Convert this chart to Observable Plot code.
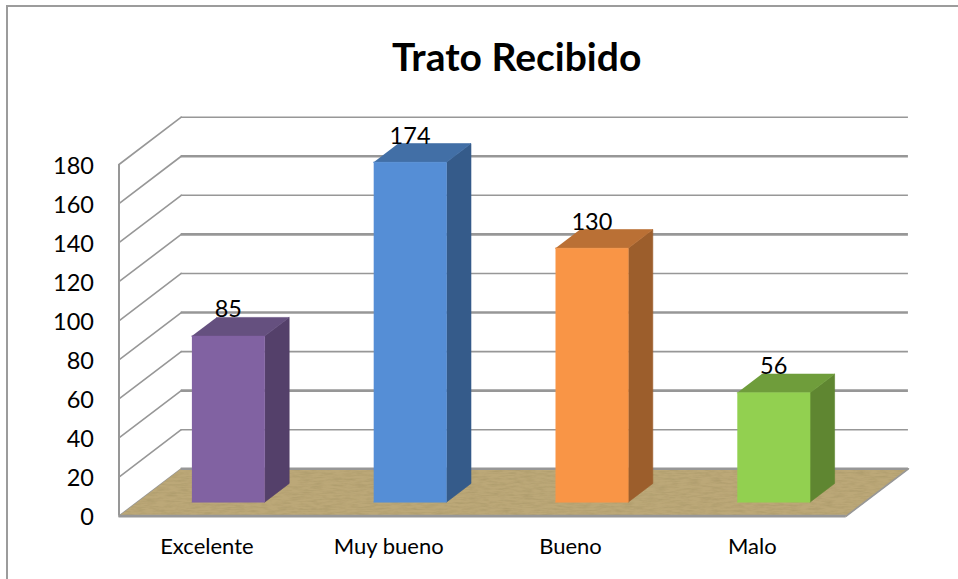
<!DOCTYPE html>
<html lang="es">
<head>
<meta charset="utf-8">
<script src="https://cdn.jsdelivr.net/npm/d3@7"></script>
<script src="https://cdn.jsdelivr.net/npm/@observablehq/plot@0.6"></script>
<style>
html,body{margin:0;padding:0;background:#fff;width:958px;height:579px;overflow:hidden}
#chart{position:relative;width:958px;height:579px}
#frame{position:absolute;left:6px;top:5px;right:0;bottom:0;border-top:2px solid #9c9c9c;border-left:2px solid #9c9c9c}
#chart svg{position:absolute;left:0;top:0;background:transparent}
</style>
</head>
<body>
<div id="chart"><div id="frame"></div></div>
<svg width="0" height="0" style="position:absolute">
  <filter id="wood" x="0" y="0" width="100%" height="100%">
    <feTurbulence type="fractalNoise" baseFrequency="0.09 0.5" numOctaves="3" seed="4" result="n"/>
    <feColorMatrix in="n" type="matrix" values="0 0 0 0 0.35  0 0 0 0 0.28  0 0 0 0 0.12  0.9 0 0 0 -0.32" result="g"/>
    <feComposite in="g" in2="SourceAlpha" operator="in" result="t"/>
    <feMerge><feMergeNode in="SourceGraphic"/><feMergeNode in="t"/></feMerge>
  </filter>
</svg>
<script>
const title = "Trato Recibido";
const categories = ["Excelente", "Muy bueno", "Bueno", "Malo"];
const values = [85, 174, 130, 56];
const frontColors = ["#8162a2", "#558ed6", "#f99546", "#92d050"];
const sideColors = ["#54406a", "#355b8a", "#9c5e2c", "#5f8631"];
const topColors = ["#65507f", "#426fa6", "#ba7035", "#6f9d3b"];
const yTicks = d3.range(0, 181, 20);

// Oblique projection: depth z (0 front, 1 back) expressed in scale units
const depthX = 0.3423, depthY = 24.22;
const barZ0 = 0.295, barZ1 = 0.69, barHalf = 0.2;
const X = (pos, z) => pos + z * depthX;
const Y = (val, z) => val + z * depthY;

const faces = [];
values.forEach((v, i) => {
  const l = i + 0.5 - barHalf, r = i + 0.5 + barHalf;
  const add = (face, color, pts) => pts.forEach(([x, y, z]) => faces.push({id: i + face, color, px: X(x, z), py: Y(y, z)}));
  add("side", sideColors[i], [[r,0,barZ0],[r,0,barZ1],[r,v,barZ1],[r,v,barZ0]]);
  add("top", topColors[i], [[l,v,barZ0],[r,v,barZ0],[r,v,barZ1],[l,v,barZ1]]);
  add("front", frontColors[i], [[l,0,barZ0],[r,0,barZ0],[r,v,barZ0],[l,v,barZ0]]);
});

const floor = [[0,0],[4,0],[4,1],[0,1]].map(([x, z]) => ({px: X(x, z), py: Y(0, z)}));
const diagonals = yTicks.flatMap(t => [{t, px: X(0,0), py: Y(t,0)}, {t, px: X(0,1), py: Y(t,1)}]);
const floorEdge = [{px: X(4,0), py: 0}, {px: X(4,1), py: Y(0,1)}];
const labels = values.map((v, i) => ({v, px: X(i + 0.5, barZ0), py: Y(v, barZ1)}));

const grey = "#979797";
const plot = Plot.plot({
  width: 958, height: 579,
  marginLeft: 118.5, marginRight: 112.3, marginTop: 164, marginBottom: 63.4,
  style: {fontFamily: "Lato, 'Open Sans', sans-serif", background: "transparent", color: "#000"},
  x: {domain: [0, 4]},
  y: {domain: [0, 180]},
  color: {type: "identity"},
  marks: [
    Plot.ruleY(yTicks.slice(1), {
      x1: X(0,1), x2: X(4,1), y: d => Y(d,1), stroke: grey,
      strokeWidth: d => (d % 40 === 0 ? 2.6 : 1.6)
    }),
    Plot.line(diagonals, {x: "px", y: "py", z: "t", stroke: grey, strokeWidth: 1.6}),
    Plot.line(floor, {x: "px", y: "py", fill: "#bcA878", stroke: "#bca878", strokeWidth: 0.5, imageFilter: "url(#wood)"}),
    Plot.ruleY([0], {x1: X(0,1), x2: X(4,1), y: Y(0,1), stroke: grey, strokeWidth: 2.6}),
    Plot.line(floorEdge, {x: "px", y: "py", stroke: grey, strokeWidth: 1.6}),
    Plot.ruleX([0], {y1: 0, y2: 180, stroke: grey, strokeWidth: 2}),
    Plot.ruleY([0], {stroke: grey, strokeWidth: 2.6}),
    Plot.line(faces, {x: "px", y: "py", z: "id", fill: "color", stroke: "color", strokeWidth: 0.6}),
    Plot.text(labels, {x: "px", y: "py", text: "v", dy: -7.5, fontSize: 23.5, fill: "#000"}),
    Plot.axisY({ticks: yTicks, tickSize: 0, tickPadding: 25, fontSize: 23.5, label: null, anchor: "left", dy: 1.5}),
    Plot.axisX({ticks: [0.5, 1.5, 2.5, 3.5], tickFormat: (d) => categories[Math.floor(d)], tickSize: 0, tickPadding: 22, fontSize: 22, label: null, dx: -3}),
    Plot.text([title], {frameAnchor: "top", dx: 34, dy: -106, fontSize: 39, fontWeight: 700, fill: "#000", lineAnchor: "middle"})
  ]
});
document.getElementById("chart").appendChild(plot);
</script>
</body>
</html>
